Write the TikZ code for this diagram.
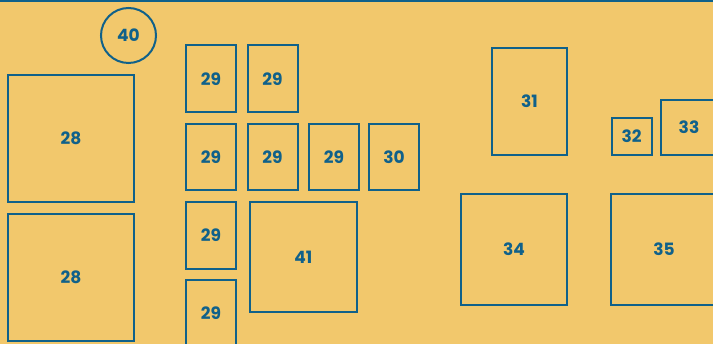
\documentclass[tikz,border=0pt]{standalone}
\usepackage{fontspec}
\setmainfont{Poppins}
\usepackage{tikz}
\usetikzlibrary{positioning}

\definecolor{panelbg}{HTML}{F2C86C}
\definecolor{inkblue}{HTML}{10618A}

\begin{document}
\begin{tikzpicture}[
  x=1pt, y=-1pt,
  font=\fontsize{17}{17}\selectfont\bfseries,
  slot/.style={draw=inkblue, line width=2pt, text=inkblue, inner sep=0pt},
  fuse/.style={slot, minimum width=50pt, minimum height=66.5pt},
  relay/.style={slot, minimum width=106pt, minimum height=110pt}
]
% panel and top edge
\fill[panelbg] (0,0) rectangle (713,344);
\useasboundingbox (0,0) rectangle (713,344);
\clip (0,0) rectangle (713,344);
\draw[inkblue, line width=2.5pt] (0,1) -- (713,1);

% left: big relays and round fuse
\node[slot, circle, minimum size=55pt] (c40) at (128.5,35.5) {40};
\node[slot, minimum width=126pt, minimum height=126.5pt] (r28a) at (71,138.75) {28};
\node[slot, minimum width=126pt, minimum height=127pt]   (r28b) at (71,277.5) {28};

% fuse block
\node[fuse] (f29a) at (211,78.75)   {29};
\node[fuse] (f29b) at (272.5,78.75) {29};
\node[fuse] (f29c) at (211,157)     {29};
\node[fuse] (f29d) at (272.5,157)   {29};
\node[fuse] (f29e) at (334,157)     {29};
\node[fuse] (f30)  at (394,157)     {30};
\node[fuse] (f29f) at (211,235.5)   {29};
\node[fuse] (f29g) at (211,313.5)   {29};
\node[relay, minimum width=106.5pt] (r41) at (303.25,257) {41};

% right side
\node[slot, minimum width=75pt, minimum height=107pt]  (r31) at (529.5,101.2) {31};
\node[slot, minimum width=40pt, minimum height=36.7pt] (f32) at (631.6,136.4) {32};
\node[slot, minimum width=56pt, minimum height=54.7pt] (f33) at (689,127.3)   {33};
\node[relay, minimum height=111pt] (r34) at (514,249.5) {34};
\node[relay, minimum height=111pt] (r35) at (664,249.5) {35};
\end{tikzpicture}
\end{document}
